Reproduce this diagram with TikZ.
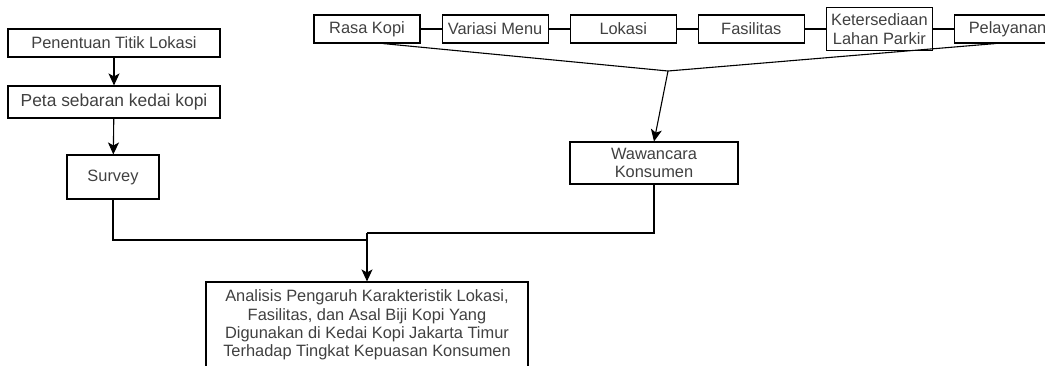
\documentclass[tikz,border=0pt]{standalone}
\usepackage{fontspec}
\setmainfont{Liberation Sans}
\usetikzlibrary{chains,arrows.meta,positioning}

\begin{document}
\begin{tikzpicture}[x=1pt,y=-1pt]
\tikzset{every node/.style={draw,line width=1.1pt,text=black!75,
font=\fontsize{16.4}{18.3}\selectfont,align=center,inner sep=1pt},
flow/.style={draw,line width=1.1pt,-{Stealth[length=12pt,width=11pt,inset=3pt]}}}
\useasboundingbox (0,0) rectangle (1045,365);
\node[minimum width=212pt,minimum height=28pt] (Penentuan Titik Lokasi) at (114,43) {Penentuan Titik Lokasi};
\node[minimum width=212pt,minimum height=32pt,font=\fontsize{17.4}{19}\selectfont] (Peta sebaran) at (114,102) {Peta sebaran kedai kopi};
\node[minimum width=92pt,minimum height=44pt] (Survey) at (113,177) {Survey};
\begin{scope}[start chain=going right,node distance=21pt,
every node/.append style={on chain,minimum width=106pt,minimum height=28pt}]
\node at (367,29) (Rasa Kopi) {Rasa Kopi};
\node (Variasi Menu) {Variasi Menu};
\node (Lokasi) {Lokasi};
\node (Fasilitas) {Fasilitas};
\node[minimum height=43pt] (Ketersediaan) {Ketersediaan\\Lahan Parkir};
\node (Pelayanan) {Pelayanan};
\end{scope}
\node[minimum width=168pt,minimum height=42pt] (Wawancara Konsumen) at (654,163) {Wawancara\\Konsumen};
\node[minimum width=322pt,minimum height=86pt] (Analisis) at (367,325)
{Analisis Pengaruh Karakteristik Lokasi,\\Fasilitas, dan Asal Biji Kopi Yang\\Digunakan di Kedai Kopi Jakarta Timur\\Terhadap Tingkat Kepuasan Konsumen};
\coordinate (top join) at (668,71);
\coordinate (left join) at (367,240);
\coordinate (right join) at (367,233);

\path[draw,line width=1.1pt]
(Rasa Kopi) edge (Variasi Menu)
(Variasi Menu) edge (Lokasi)
(Lokasi) edge (Fasilitas)
(Fasilitas) edge (Ketersediaan)
(Ketersediaan) edge (Pelayanan)
([xshift=16pt]Rasa Kopi.south) edge (top join)
([xshift=-12pt]Pelayanan.south) edge (top join);

\draw[flow] (Penentuan Titik Lokasi) -- (Peta sebaran);
\draw[flow] (Peta sebaran) -- (Survey);
\draw[flow] (top join) -- (Wawancara Konsumen.north);
\draw[flow] (right join) -- (Analisis.north);
\draw[line width=1.1pt] (Survey.south) |- (left join);
\draw[line width=1.1pt] (Wawancara Konsumen.south) |- (right join);
\end{tikzpicture}
\end{document}
